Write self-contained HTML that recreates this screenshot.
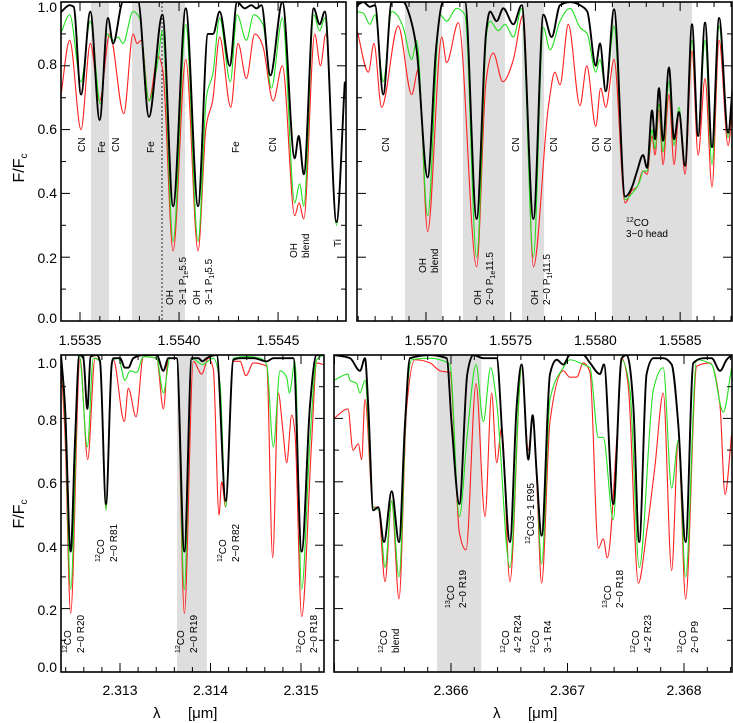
<!DOCTYPE html>
<html><head><meta charset="utf-8"><style>
html,body{margin:0;padding:0;background:#fff}
svg{display:block;font-family:"Liberation Sans",Arial,sans-serif}
</style></head><body>
<svg id="chart" width="733" height="723" viewBox="0 0 733 723" xmlns="http://www.w3.org/2000/svg"></svg>
<script>
// ---------- DATA ----------
const tlBlackLam=[1.553402,1.553448,1.553468,1.553505,1.553552,1.553599,1.553641,1.553667,1.553717,1.553793,1.553848,1.553916,1.553970,1.554034,1.554096,1.554146,1.554172,1.554205,1.554256,1.554293,1.554332,1.554365,1.554391,1.554416,1.554461,1.554522,1.554584,1.554604,1.554630,1.554680,1.554710,1.554736,1.554795,1.554837];
const tlBlackFlux=[.967,.99,.985,.71,.97,.63,.95,.87,1.0,1.0,.64,.96,.36,.98,.36,.9,.9,.97,.8,1.0,.98,.99,.98,.99,.77,1.0,.51,.58,.46,.98,.93,.97,.31,.75];
const tlGreenLam=[1.553402,1.553448,1.553505,1.553552,1.553603,1.553636,1.553667,1.553692,1.553717,1.553768,1.553801,1.553848,1.553894,1.553916,1.553970,1.554034,1.554096,1.554138,1.554172,1.554205,1.554259,1.554293,1.554340,1.554377,1.554424,1.554466,1.554522,1.554584,1.554609,1.554630,1.554680,1.554710,1.554736,1.554795,1.554837];
const tlGreenFlux=[.9,.96,.75,.94,.68,.9,.88,.89,.87,.97,.95,.69,.82,.91,.25,.93,.25,.7,.78,.95,.75,.96,.88,.96,.93,.73,.95,.37,.43,.36,.96,.91,.95,.30,.75];
const tlRedLam=[1.553402,1.553448,1.553505,1.553552,1.553599,1.553650,1.553721,1.553768,1.553788,1.553810,1.553848,1.553894,1.553919,1.553970,1.554034,1.554096,1.554135,1.554172,1.554205,1.554261,1.554298,1.554340,1.554382,1.554424,1.554475,1.554522,1.554584,1.554606,1.554630,1.554685,1.554714,1.554741,1.554795,1.554837];
const tlRedFlux=[.70,.88,.60,.87,.69,.90,.65,.90,.87,.88,.69,.83,.78,.22,.82,.22,.60,.70,.89,.67,.87,.76,.90,.86,.69,.80,.33,.37,.32,.90,.80,.90,.31,.75];

const trBlackLam=[1.556594,1.556630,1.556669,1.556699,1.556748,1.556798,1.556866,1.556896,1.556945,1.557010,1.557059,1.557102,1.557230,1.557299,1.557354,1.557378,1.557417,1.557456,1.557516,1.557565,1.557634,1.557693,1.557742,1.557791,1.557850,1.557909,1.557952,1.558002,1.558027,1.558061,1.558110,1.558175,1.558216,1.558246,1.558281,1.558305,1.558334,1.558352,1.558375,1.558399,1.558434,1.558464,1.558493,1.558529,1.558570,1.558606,1.558647,1.558688,1.558730,1.558783,1.558812];
const trBlackFlux=[.99,1.0,.985,.99,.71,1.0,1.0,.97,.85,.45,.85,1.0,1.0,.32,.90,.97,.94,.98,.93,.99,.32,.96,.89,.99,1.0,.99,.97,.80,.87,.72,.977,.39,.42,.47,.52,.48,.66,.57,.73,.565,.795,.57,.655,.487,.93,.58,.935,.545,.95,.59,.75];
const trGreenLam=[1.556594,1.556630,1.556669,1.556699,1.556748,1.556798,1.556866,1.556916,1.556945,1.557010,1.557083,1.557122,1.557181,1.557230,1.557299,1.557358,1.557378,1.557427,1.557466,1.557516,1.557565,1.557634,1.557693,1.557732,1.557791,1.557850,1.557909,1.557952,1.558002,1.558027,1.558061,1.558110,1.558175,1.558216,1.558263,1.558281,1.558305,1.558334,1.558352,1.558375,1.558399,1.558434,1.558464,1.558493,1.558529,1.558570,1.558606,1.558647,1.558688,1.558730,1.558783,1.558812];
const trGreenFlux=[.97,.965,.93,.96,.75,.97,.92,.82,.88,.33,.96,.94,.98,.96,.20,.90,.94,.91,.93,.89,.98,.20,.92,.85,.94,.98,.92,.90,.78,.82,.72,.925,.38,.40,.44,.47,.47,.60,.54,.68,.53,.75,.55,.67,.487,.88,.58,.88,.49,.925,.575,.75];
const trRedLam=[1.556594,1.556660,1.556693,1.556738,1.556836,1.556916,1.556955,1.557010,1.557093,1.557122,1.557191,1.557299,1.557354,1.557397,1.557453,1.557516,1.557574,1.557634,1.557722,1.557761,1.557791,1.557840,1.557909,1.557949,1.558002,1.558031,1.558061,1.558110,1.558175,1.558216,1.558246,1.558281,1.558305,1.558334,1.558352,1.558375,1.558399,1.558434,1.558464,1.558493,1.558529,1.558570,1.558606,1.558647,1.558688,1.558730,1.558783,1.558812];
const trRedFlux=[.91,.78,.87,.67,.925,.71,.79,.28,.89,.81,.935,.17,.75,.84,.75,.82,.96,.17,.67,.78,.74,.93,.675,.80,.61,.73,.67,.82,.37,.41,.42,.47,.46,.58,.52,.66,.49,.71,.49,.65,.46,.847,.52,.76,.42,.88,.55,.70];

const blBlackLam=[2.312348,2.312392,2.312455,2.312503,2.312551,2.312595,2.312639,2.312676,2.312742,2.312779,2.312845,2.312908,2.312926,2.313000,2.313055,2.313092,2.313147,2.313258,2.313405,2.313479,2.313534,2.313626,2.313711,2.313792,2.313866,2.313910,2.313958,2.314068,2.314168,2.314252,2.314326,2.314473,2.314621,2.314694,2.314915,2.315007,2.315099,2.315173,2.315247];
const blBlackFlux=[1.0,.84,.38,.73,1.0,.99,.83,.995,1.0,.98,.53,.97,.99,.99,.96,.96,.99,1.0,1.0,.95,.99,.99,.38,.99,.99,.98,.99,1.0,.54,.985,.99,.99,.98,.99,.99,.38,.84,1.0,1.0];
const blGreenLam=[2.312348,2.312392,2.312455,2.312551,2.312639,2.312705,2.312779,2.312845,2.312908,2.312926,2.312982,2.313055,2.313110,2.313184,2.313258,2.313405,2.313479,2.313552,2.313626,2.313711,2.313792,2.313910,2.314031,2.314105,2.314168,2.314252,2.314400,2.314547,2.314621,2.314694,2.314768,2.314842,2.314871,2.314934,2.315007,2.315099,2.315173,2.315247];
const blGreenFlux=[.99,.8,.26,.995,.71,.99,.98,.51,.97,.985,.99,.92,.95,.945,.995,.99,.88,.99,.99,.26,.99,.97,.99,.91,.52,.99,.995,.99,.97,.71,.95,.93,.88,.98,.26,.73,.985,1.0];
const blRedLam=[2.312348,2.312392,2.312455,2.312558,2.312643,2.312724,2.312779,2.312845,2.312908,2.312926,2.313048,2.313092,2.313177,2.313258,2.313405,2.313479,2.313534,2.313626,2.313711,2.313810,2.313902,2.313976,2.314031,2.314094,2.314123,2.314168,2.314252,2.314326,2.314392,2.314473,2.314621,2.314687,2.314749,2.314797,2.314842,2.314897,2.314934,2.315007,2.315118,2.315173,2.315247];
const blRedFlux=[.97,.75,.185,.99,.67,.99,.98,.52,.97,.985,.79,.895,.805,.995,.99,.83,.99,.99,.185,.98,.94,.99,.955,.495,.60,.52,.98,.98,.935,.975,.965,.36,.88,.77,.66,.81,.75,.175,.73,.975,.97];

const brBlackLam=[2.364996,2.365133,2.365219,2.365262,2.365290,2.365333,2.365376,2.365425,2.365491,2.365554,2.365605,2.365648,2.365820,2.365963,2.366006,2.366072,2.366140,2.366192,2.366278,2.366392,2.366443,2.366506,2.366564,2.366607,2.366664,2.366701,2.366735,2.366778,2.366850,2.366907,2.366964,2.367021,2.367136,2.367193,2.367279,2.367313,2.367393,2.367465,2.367508,2.367565,2.367616,2.367679,2.367737,2.367822,2.367894,2.367951,2.368014,2.368080,2.368166,2.368237,2.368309,2.368366,2.368409];
const brBlackFlux=[1.0,.99,.95,.99,.84,.51,.52,.41,.57,.41,.78,.99,1.0,.99,.78,.53,.94,1.0,.99,.99,.73,.41,.84,.97,.67,.81,.63,.43,.94,.985,.97,1.0,1.0,.975,.94,.97,.53,.99,1.0,.84,.41,.94,.99,.99,.97,.78,.41,.975,.99,.99,.95,.985,1.0];
const brGreenLam=[2.364996,2.365116,2.365133,2.365190,2.365219,2.365262,2.365333,2.365385,2.365434,2.365491,2.365554,2.365619,2.365662,2.365820,2.365906,2.365991,2.366072,2.366140,2.366215,2.366278,2.366340,2.366392,2.366506,2.366607,2.366664,2.366701,2.366735,2.366778,2.366850,2.366964,2.367021,2.367136,2.367193,2.367265,2.367307,2.367393,2.367465,2.367536,2.367616,2.367737,2.367822,2.367894,2.367951,2.368014,2.368109,2.368237,2.368337,2.368409];
const brGreenFlux=[.92,.94,.92,.91,.88,.92,.52,.51,.33,.54,.30,.86,.985,.99,.985,.97,.49,.75,.97,.79,.96,.85,.33,.96,.68,.81,.63,.34,.86,.96,.985,.97,.96,.74,.74,.48,.985,.89,.33,.89,.96,.58,.73,.30,.985,.97,.82,.96];
const brRedLam=[2.364996,2.365116,2.365159,2.365205,2.365233,2.365262,2.365333,2.365376,2.365434,2.365491,2.365554,2.365619,2.365691,2.365820,2.365906,2.365991,2.366072,2.366129,2.366215,2.366292,2.366349,2.366392,2.366435,2.366506,2.366607,2.366664,2.366701,2.366735,2.366778,2.366850,2.366964,2.367021,2.367079,2.367136,2.367193,2.367265,2.367307,2.367342,2.367422,2.367465,2.367522,2.367608,2.367679,2.367751,2.367822,2.367894,2.367951,2.368014,2.368109,2.368223,2.368309,2.368352,2.368409];
const brRedFlux=[.80,.83,.70,.72,.67,.86,.52,.52,.285,.54,.23,.83,.985,.975,.95,.945,.44,.385,.91,.49,.88,.66,.77,.285,.96,.70,.81,.61,.28,.79,.95,.93,.93,.975,.945,.39,.42,.36,.73,.99,.90,.28,.44,.65,.88,.32,.73,.23,.965,.975,.84,.56,.75];

const tlBands=[[1.5535556,1.5536465],[1.5537626,1.55403]];
const trBands=[[1.556876,1.5570945],[1.557218,1.557466],[1.557567,1.557697],[1.558098,1.55857]];
const blBands=[[2.31363,2.31396]];
const brBands=[[2.36588,2.36626]];
const tlXTicks=["1.5535","1.5540","1.5545"];
const trXTicks=["1.5570","1.5575","1.5580","1.5585"];
const blXTicks=["2.313","2.314","2.315"];
const brXTicks=["2.366","2.367","2.368"];
const yTickLabels=["0.0","0.2","0.4","0.6","0.8","1.0"];

// ---------- LAYOUT ----------
const NS="http://www.w3.org/2000/svg";
const svg=document.getElementById('chart');
function el(tag,attrs,parent){const e=document.createElementNS(NS,tag);for(const k in attrs)e.setAttribute(k,attrs[k]);(parent||svg).appendChild(e);return e;}

const panels=[
 {id:'tl',x0:61,x1:346,y0:2,y1:321,lmin:1.553404,lmax:1.554843,major:0.0005,minor:0.0001,ticks:tlXTicks,bands:tlBands,tickY:345,
  series:[[tlRedLam,tlRedFlux],[tlGreenLam,tlGreenFlux],[tlBlackLam,tlBlackFlux]],ylab:true,ylabY:[318,258,193,129,64,7]},
 {id:'tr',x0:357,x1:732,y0:2,y1:321,lmin:1.556593,lmax:1.558806,major:0.0005,minor:0.0001,ticks:trXTicks,bands:trBands,tickY:345,
  series:[[trRedLam,trRedFlux],[trGreenLam,trGreenFlux],[trBlackLam,trBlackFlux]],ylab:false},
 {id:'bl',x0:61,x1:324,y0:355,y1:672,lmin:2.312348,lmax:2.315254,major:0.001,minor:0.0002,ticks:blXTicks,bands:blBands,tickY:695,
  series:[[blRedLam,blRedFlux],[blGreenLam,blGreenFlux],[blBlackLam,blBlackFlux]],ylab:true,ylabY:[667,610,547,483,420,363]},
 {id:'br',x0:334,x1:732,y0:355,y1:672,lmin:2.364996,lmax:2.368412,major:0.001,minor:0.0002,ticks:brXTicks,bands:brBands,tickY:695,
  series:[[brRedLam,brRedFlux],[brGreenLam,brGreenFlux],[brBlackLam,brBlackFlux]],ylab:false}
];
const colors=['#ff2020','#22e022','#000000'];
const widths=[1.1,1.1,1.9];
const sNames=['red','green','black'];

function monoPath(px,py){
  const n=px.length;const s=[],h=[];
  for(let i=0;i<n-1;i++){h[i]=px[i+1]-px[i];s[i]=(py[i+1]-py[i])/h[i];}
  const m=[];m[0]=s[0];m[n-1]=s[n-2];
  for(let i=1;i<n-1;i++){
    if(s[i-1]*s[i]<=0){m[i]=0;continue;}
    const p=(s[i-1]*h[i]+s[i]*h[i-1])/(h[i-1]+h[i]);
    m[i]=(Math.sign(s[i-1])+Math.sign(s[i]))*Math.min(Math.abs(s[i-1]),Math.abs(s[i]),0.5*Math.abs(p));
  }
  let d='M'+px[0].toFixed(2)+','+py[0].toFixed(2);
  for(let i=0;i<n-1;i++){
    const dx=h[i]/3;
    d+=' C'+(px[i]+dx).toFixed(2)+','+(py[i]+m[i]*dx).toFixed(2)+' '+(px[i+1]-dx).toFixed(2)+','+(py[i+1]-m[i+1]*dx).toFixed(2)+' '+px[i+1].toFixed(2)+','+py[i+1].toFixed(2);
  }
  return d;
}

const defs=el('defs',{});
panels.forEach(P=>{
  const xs=l=>P.x0+(l-P.lmin)/(P.lmax-P.lmin)*(P.x1-P.x0);
  const ys=f=>P.y1-f*(P.y1-P.y0);
  const g=el('g',{});
  
  
  const cp=el('clipPath',{id:'clip-'+P.id},defs);
  el('rect',{x:P.x0,y:P.y0,width:P.x1-P.x0,height:P.y1-P.y0},cp);
  const plot=el('g',{'clip-path':'url(#clip-'+P.id+')'},g);
  P.bands.forEach((b,i)=>{
    const r=el('rect',{x:xs(b[0]),y:P.y0,width:xs(b[1])-xs(b[0]),height:P.y1-P.y0,fill:'#dedede'},plot);
    
    
  });
  if(P.id==='tl'){
    const dl=el('line',{x1:xs(1.553914),x2:xs(1.553914),y1:P.y0,y2:P.y1,stroke:'#000','stroke-width':0.8,'stroke-dasharray':'2,2'},plot);
    
    
  }
  P.series.forEach((sr,si)=>{
    const px=sr[0].map(xs),py=sr[1].map(ys);
    const p=el('path',{d:monoPath(px,py),fill:'none',stroke:colors[si],'stroke-width':widths[si],'stroke-linejoin':'round'},plot);
    
    
  });
  // ticks
  const tg=el('g',{stroke:'#000','stroke-width':1},g);
  
  
  const k0=Math.ceil(P.lmin/P.minor-1e-6),k1=Math.floor(P.lmax/P.minor+1e-6);
  for(let k=k0;k<=k1;k++){
    const l=k*P.minor;const isMaj=Math.abs(l/P.major-Math.round(l/P.major))<1e-4;
    const len=isMaj?9:5;const x=xs(l);
    el('line',{x1:x,x2:x,y1:P.y1,y2:P.y1-len},tg);
    el('line',{x1:x,x2:x,y1:P.y0,y2:P.y0+len},tg);
  }
  for(let k=1;k<10;k++){
    const f=k/10;const len=(k%2===0)?9:5;const y=ys(f);
    el('line',{x1:P.x0,x2:P.x0+len,y1:y,y2:y},tg);
    el('line',{x1:P.x1,x2:P.x1-len,y1:y,y2:y},tg);
  }
  const fr=el('rect',{x:P.x0,y:P.y0,width:P.x1-P.x0,height:P.y1-P.y0,fill:'none',stroke:'#000','stroke-width':1.6},g);
  
  
  P.ticks.forEach(t=>{
    const tx=el('text',{x:xs(parseFloat(t)),y:P.tickY,'text-anchor':'middle','font-size':14},g);
    tx.textContent=t;
    
    
  });
  if(P.ylab){
    yTickLabels.forEach((t,i)=>{
      const tx=el('text',{x:57,y:P.ylabY[i]+5,'text-anchor':'end','font-size':14},g);
      tx.textContent=t;
      
      
    });
  }
});
</script>
<svg width="0" height="0" style="position:absolute"></svg>
<script>
// ---------- TEXT ANNOTATIONS ----------
(function(){
const NS="http://www.w3.org/2000/svg";const svg=document.getElementById('chart');
const g=document.createElementNS(NS,'g');svg.appendChild(g);


g.setAttribute('font-size','10');
// rotated labels: [x,y,html]
const rot=[
 [85,152,'CN'],[105,153,'Fe'],[119,152,'CN'],[154,153,'Fe'],[239,153,'Fe'],[276,152,'CN'],
 [173,305,'OH'],[186,305,'3&#8722;1 P<tspan font-size="7" dy="2">1e</tspan><tspan dy="-2">5.5</tspan>'],
 [200,305,'OH'],[212,305,'3&#8722;1 P<tspan font-size="7" dy="2">1f</tspan><tspan dy="-2">5.5</tspan>'],
 [297,258,'OH'],[309,258,'blend'],[341,247,'Ti'],
 [389,152,'CN'],[426,273,'OH'],[438,273,'blend'],
 [481,305,'OH'],[493,305,'2&#8722;0 P<tspan font-size="7" dy="2">1e</tspan><tspan dy="-2">11.5</tspan>'],
 [519,152,'CN'],
 [538,305,'OH'],[550,305,'2&#8722;0 P<tspan font-size="7" dy="2">1f</tspan><tspan dy="-2">11.5</tspan>'],
 [557,152,'CN'],[599,152,'CN'],[611,152,'CN'],
 [71,653,'<tspan font-size="7" dy="-4">12</tspan><tspan dy="4">CO</tspan>'],[84,653,'2&#8722;0 R20'],
 [104,562,'<tspan font-size="7" dy="-4">12</tspan><tspan dy="4">CO</tspan>'],[117,562,'2&#8722;0 R81'],
 [184,653,'<tspan font-size="7" dy="-4">12</tspan><tspan dy="4">CO</tspan>'],[197,653,'2&#8722;0 R19'],
 [226,562,'<tspan font-size="7" dy="-4">12</tspan><tspan dy="4">CO</tspan>'],[239,562,'2&#8722;0 R82'],
 [305,653,'<tspan font-size="7" dy="-4">12</tspan><tspan dy="4">CO</tspan>'],[317,653,'2&#8722;0 R18'],
 [387,653,'<tspan font-size="7" dy="-4">12</tspan><tspan dy="4">CO</tspan>'],[399,653,'blend'],
 [454,608,'<tspan font-size="7" dy="-4">13</tspan><tspan dy="4">CO</tspan>'],[466,608,'2&#8722;0 R19'],
 [509,653,'<tspan font-size="7" dy="-4">12</tspan><tspan dy="4">CO</tspan>'],[521,653,'4&#8722;2 R24'],
 [534,544,'<tspan font-size="7" dy="-4">12</tspan><tspan dy="4">CO3&#8722;1 R95</tspan>'],
 [539,653,'<tspan font-size="7" dy="-4">12</tspan><tspan dy="4">CO</tspan>'],[551,653,'3&#8722;1 R4'],
 [611,608,'<tspan font-size="7" dy="-4">13</tspan><tspan dy="4">CO</tspan>'],[623,608,'2&#8722;0 R18'],
 [639,653,'<tspan font-size="7" dy="-4">12</tspan><tspan dy="4">CO</tspan>'],[651,653,'4&#8722;2 R23'],
 [686,653,'<tspan font-size="7" dy="-4">12</tspan><tspan dy="4">CO</tspan>'],[698,653,'2&#8722;0 P9']
];
rot.forEach(r=>{
  const t=document.createElementNS(NS,'text');
  t.setAttribute('transform','translate('+r[0]+','+r[1]+') rotate(-90)');
  t.innerHTML=r[2];
  
  
  g.appendChild(t);
});
})();
</script>
<script>
(function(){
const NS="http://www.w3.org/2000/svg";const svg=document.getElementById('chart');
function add(html,attrs,name){const t=document.createElementNS(NS,'text');for(const k in attrs)t.setAttribute(k,attrs[k]);t.innerHTML=html;


svg.appendChild(t);}
add('<tspan font-size="7" dy="-4">12</tspan><tspan dy="4">CO</tspan>',{x:626,y:226,'font-size':10},'co-head-label');
add('3&#8722;0  head',{x:626,y:237,'font-size':10,'xml:space':'preserve'},'co-head-label-2');
add('F/F<tspan font-size="10" dy="3">c</tspan>',{transform:'translate(24,168) rotate(-90)','font-size':16,'text-anchor':'middle'},'y-axis-title-top');
add('F/F<tspan font-size="10" dy="3">c</tspan>',{transform:'translate(24,514) rotate(-90)','font-size':16,'text-anchor':'middle'},'y-axis-title-bottom');
add('&#955;',{x:153,y:718,'font-size':15},'x-axis-title-left');
add('[&#956;m]',{x:188,y:718,'font-size':15},'x-axis-unit-left');
add('&#955;',{x:493,y:718,'font-size':15},'x-axis-title-right');
add('[&#956;m]',{x:528,y:718,'font-size':15},'x-axis-unit-right');
})();
</script>
</body></html>
